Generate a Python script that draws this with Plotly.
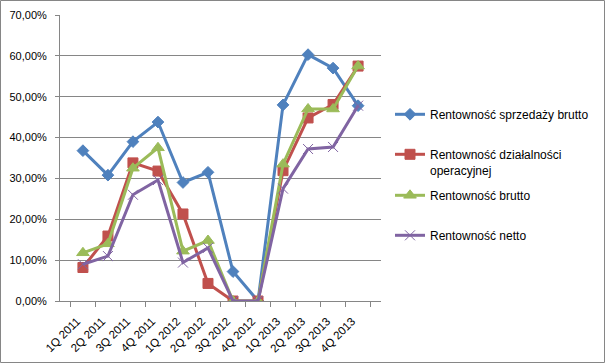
import plotly.graph_objects as go

categories = ["1Q 2011", "2Q 2011", "3Q 2011", "4Q 2011", "1Q 2012", "2Q 2012",
              "3Q 2012", "4Q 2012", "1Q 2013", "2Q 2013", "3Q 2013", "4Q 2013"]
sprzedazy_brutto = [0.368, 0.308, 0.390, 0.438, 0.290, 0.315, 0.072, 0.0, 0.480, 0.603, 0.570, 0.478]
dzialalnosci_oper = [0.082, 0.159, 0.338, 0.318, 0.213, 0.043, 0.0, 0.0, 0.319, 0.448, 0.481, 0.575]
brutto = [0.118, 0.140, 0.325, 0.375, 0.122, 0.148, 0.0, 0.0, 0.335, 0.470, 0.470, 0.575]
netto = [0.090, 0.110, 0.260, 0.296, 0.094, 0.130, 0.0, 0.0, 0.275, 0.372, 0.377, 0.478]

names = ["Rentowność sprzedaży brutto", "Rentowność działalności<br>operacyjnej",
         "Rentowność brutto", "Rentowność netto"]
colors = ["#4F81BD", "#C0504D", "#9BBB59", "#8064A2"]
symbols = ["diamond", "square", "triangle-up", "x-thin-open"]
sizes = [9, 10, 11, 10]
series = [sprzedazy_brutto, dzialalnosci_oper, brutto, netto]
legends = ["legend", "legend2", "legend3", "legend4"]
legend_y = [113, 153, 194, 234]

W, H = 606, 364
L, R, T, B = 60, 225, 15, 63
pw, ph = W - L - R, H - T - B

fig = go.Figure()
for name, vals, col, sym, sz, lg in zip(names, series, colors, symbols, sizes, legends):
    fig.add_trace(go.Scatter(
        x=categories, y=vals, name=name, mode="lines+markers",
        line=dict(color=col, width=3),
        marker=dict(symbol=sym, size=sz, color=col, line=dict(color=col, width=1)),
        legend=lg,
    ))

font = dict(family="Liberation Sans, Arial, sans-serif", size=11, color="#000000")
xfont = dict(family="Liberation Sans, Arial, sans-serif", size=11.5, color="#000000")
lfont = dict(family="Liberation Sans, Arial, sans-serif", size=12, color="#000000")
layout_legends = {}
for lg, yy in zip(legends, legend_y):
    layout_legends[lg] = dict(
        x=(390 - L) / pw, y=1 - (yy - 13 - T) / ph, xanchor="left", yanchor="top",
        font=lfont, bgcolor="rgba(0,0,0,0)", valign="top",
        itemwidth=30, tracegroupgap=0,
    )

fig.update_layout(
    width=W, height=H,
    margin=dict(l=L, r=R, t=T, b=B, autoexpand=False),
    paper_bgcolor="white", plot_bgcolor="white",
    separators=", ",
    font=font,
    showlegend=True,
    **layout_legends,
    xaxis=dict(
        type="category", showgrid=False, showline=True, linecolor="#868686", linewidth=1,
        ticks="outside", tickson="boundaries", ticklen=5, tickcolor="#868686",
        tickangle=-45, tickfont=xfont, zeroline=False, automargin=False,
        ticklabelstandoff=8, ticklabelshift=-6,
    ),
    yaxis=dict(
        range=[0, 0.7], dtick=0.1, tickformat=".2%", showgrid=True, gridcolor="#868686",
        gridwidth=1, showline=True, linecolor="#868686", linewidth=1, ticks="outside",
        ticklen=4, tickcolor="#868686", tickfont=font, zeroline=False, automargin=False,
        ticklabelstandoff=6,
    ),
    shapes=[dict(
        type="rect", xref="paper", yref="paper",
        x0=(0.5 - L) / pw, x1=(W - 1.5 - L) / pw,
        y0=-(B - 1.5) / ph, y1=1 + (T - 0.5) / ph,
        line=dict(color="#868686", width=1), fillcolor="rgba(0,0,0,0)", layer="below",
    )],
)
fig.write_html("out.html", config={"displayModeBar": False},
               post_script="document.body.style.margin='0';document.body.style.overflow='hidden';")
